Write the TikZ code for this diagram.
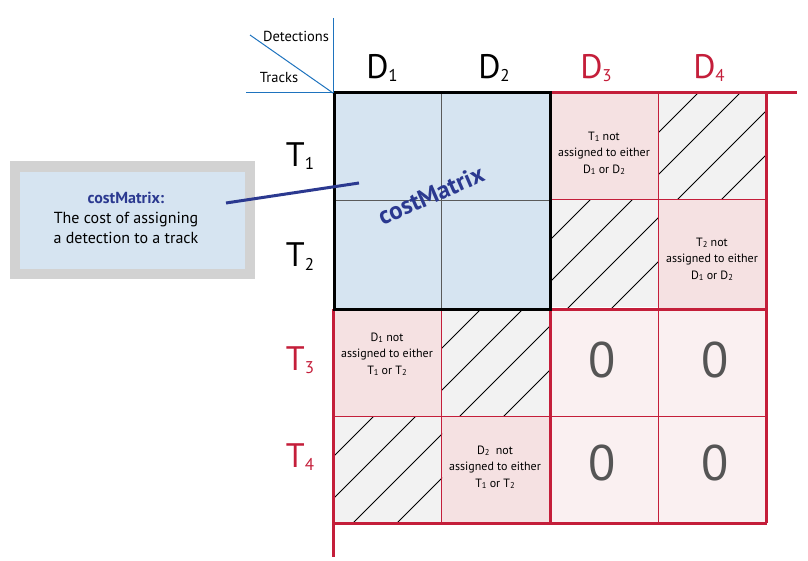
\documentclass[tikz,border=0pt]{standalone}
\usepackage{fontspec}
\setmainfont{PT Sans}
\definecolor{cblue}{RGB}{214,228,241}
\definecolor{cpink}{RGB}{245,225,226}
\definecolor{czero}{RGB}{250,240,241}
\definecolor{chatch}{RGB}{242,242,242}
\definecolor{boxgray}{RGB}{210,210,210}
\definecolor{darkblue}{RGB}{43,57,144}
\definecolor{cred}{RGB}{196,30,58}
\definecolor{axisblue}{RGB}{30,115,190}
\definecolor{zerogray}{RGB}{85,85,85}
\definecolor{gridgray}{RGB}{90,90,90}
\newcommand\smallsub[1]{\raisebox{-1pt}{\fontsize{8.5}{8.5}\selectfont #1}}
\newcommand\bigsub[1]{\raisebox{-3pt}{\fontsize{17}{17}\selectfont #1}}
\newcommand\hatchcell[2]{%
  \begin{scope}
    \clip (#1,#2) rectangle ++(108,107);
    \fill[chatch] (#1,#2) rectangle ++(108,107);
    \foreach \o in {40,82,126,170}
      \draw[line width=0.8pt,black] (#1+\o+30,#2-30) -- (#1-150,#2+\o+150);
  \end{scope}}
\tikzset{
  thinred/.style={cred,line width=1pt},
  thickred/.style={cred,line width=3pt},
  hdr/.style={font=\fontsize{34}{34}\selectfont,anchor=base},
  celltext/.style={align=center,font=\fontsize{12}{16.5}\selectfont,inner sep=0pt},
  zero/.style={font=\fontsize{50}{50}\selectfont,text=zerogray,anchor=base,inner sep=0pt},
  axis/.style={axisblue,line width=1pt},
  axislabel/.style={font=\fontsize{14.5}{14.5}\selectfont}
}
\begin{document}
\begin{tikzpicture}[x=1pt,y=-1pt]
\useasboundingbox (0,0) rectangle (808,561);
% cell fills
\fill[cblue] (334,93) rectangle (550,309);
\fill[cpink] (550,93) rectangle (658,200);
\fill[cpink] (658,200) rectangle (766,309);
\fill[cpink] (334,309) rectangle (441,416);
\fill[cpink] (441,416) rectangle (550,523);
\fill[czero] (550,309) rectangle (766,523);
\hatchcell{658}{93}
\hatchcell{550}{200}
\hatchcell{441}{309}
\hatchcell{334}{416}
% thin grid lines
\draw[gridgray,line width=0.8pt] (441,93) -- (441,309);
\draw[gridgray,line width=0.8pt] (334,200) -- (550,200);
\draw[thinred] (441,309) -- (441,523);
\draw[thinred] (658,93) -- (658,523);
\draw[thinred] (550,200) -- (766,200);
\draw[thinred] (334,416) -- (766,416);
% thick red lines
\draw[thickred] (550,93) -- (797,93);
\draw[thickred] (766,93) -- (766,523);
\draw[thickred] (333,309) -- (333,557);
\draw[thickred] (333,523) -- (767,523);
\draw[thickred] (333,309) -- (766,309);
\draw[thickred] (550,309) -- (550,523);
% black border
\draw[black,line width=3pt] (334,93) rectangle (550,309);
% axes corner
\draw[axis] (333,18) -- (333,93);
\draw[axis] (246,93) -- (333,93);
\draw[axis] (250,35) -- (333,93);
\node[axislabel] (det) at (296,36) {Detections};
\node[axislabel] (trk) at (279,78) {Tracks};
% headers
\node[hdr] (d1) at (382,79) {D\bigsub{1}};
\node[hdr] (d2) at (494,79) {D\bigsub{2}};
\node[hdr,text=cred] (d3) at (596,79) {D\bigsub{3}};
\node[hdr,text=cred] (d4) at (709,79) {D\bigsub{4}};
\node[hdr] (t1) at (300,167) {T\bigsub{1}};
\node[hdr] (t2) at (300,267) {T\bigsub{2}};
\node[hdr,text=cred] (t3) at (300,370) {T\bigsub{3}};
\node[hdr,text=cred] (t4) at (300,467) {T\bigsub{4}};
% cell texts
\node[celltext] (c31) at (604,153) {T\smallsub{1} not\\assigned to either\\D\smallsub{1} or D\smallsub{2}};
\node[celltext] (c42) at (712,259) {T\smallsub{2} not\\assigned to either\\D\smallsub{1} or D\smallsub{2}};
\node[celltext] (c13) at (387,354) {D\smallsub{1} not\\assigned to either\\T\smallsub{1} or T\smallsub{2}};
\node[celltext] (c24) at (495,467) {D\smallsub{2}\ \ not\\assigned to either\\T\smallsub{1} or T\smallsub{2}};
% zeros
\node[zero] (z33) at (602,377) {0};
\node[zero] (z43) at (715,377) {0};
\node[zero] (z34) at (602,480) {0};
\node[zero] (z44) at (715,480) {0};
% left explanation box
\fill[boxgray] (10,161) rectangle (255,279);
\fill[cblue] (20,172) rectangle (245,269);
\node[align=center,font=\fontsize{16}{20}\selectfont] (cmbox) at (126,218)
  {{\bfseries\color{darkblue}costMatrix:}\\The cost of assigning\\a detection to a track};
\coordinate (lineStart) at (226,203);
\coordinate (lineEnd) at (359,183);
\draw[darkblue,line width=3pt] (lineStart) -- (lineEnd);
\node[rotate=23.5,font=\bfseries\fontsize{25}{25}\selectfont,text=darkblue] (cmlabel) at (431,195) {costMatrix};
\end{tikzpicture}
\end{document}
